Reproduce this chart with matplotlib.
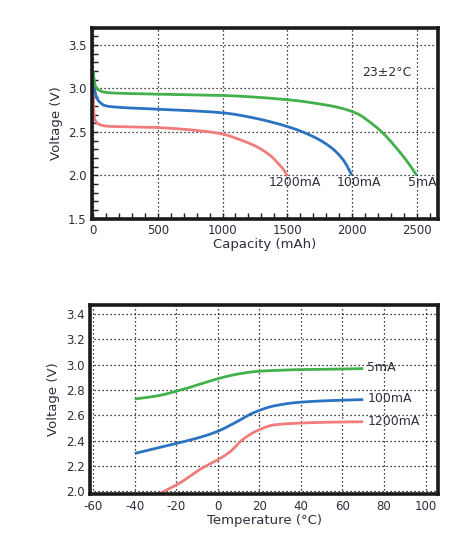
import numpy as np
import matplotlib
matplotlib.use("Agg")
import matplotlib.pyplot as plt
from matplotlib.ticker import MultipleLocator

plt.rcParams['axes.unicode_minus'] = False

# discharge curves (capacity in mAh, voltage in V)
cap_5 = [0, 15, 46, 98, 201, 459, 1000, 1521, 1779, 1900, 2000, 2060, 2114, 2230, 2346, 2436, 2500]
v_5 = [3.2, 3.04, 2.98, 2.955, 2.945, 2.937, 2.92, 2.868, 2.815, 2.78, 2.735, 2.695, 2.64, 2.5, 2.31, 2.14, 2.0]

cap_100 = [0, 8, 21, 46, 98, 201, 459, 1000, 1212, 1521, 1676, 1830, 1934, 2000]
v_100 = [3.2, 3.04, 2.925, 2.85, 2.80, 2.783, 2.764, 2.72, 2.67, 2.552, 2.463, 2.33, 2.174, 2.0]

cap_1200 = [0, 3, 15, 46, 98, 201, 459, 825, 1000, 1135, 1263, 1367, 1431, 1483, 1500]
v_1200 = [3.2, 2.8, 2.636, 2.587, 2.567, 2.56, 2.552, 2.513, 2.475, 2.41, 2.33, 2.23, 2.135, 2.04, 1.99]

# voltage vs temperature
temp_5 = [-40, -29, -17, -8, 0, 9, 19, 30, 40, 55, 70]
volt_5 = [2.73, 2.755, 2.805, 2.85, 2.89, 2.925, 2.948, 2.957, 2.962, 2.965, 2.97]

temp_100 = [-40, -30, -21, -8, 0, 8, 17, 27, 40, 59, 70]
volt_100 = [2.3, 2.34, 2.375, 2.43, 2.475, 2.54, 2.62, 2.675, 2.705, 2.72, 2.725]

temp_1200 = [-29, -18, -8, 0, 6, 12, 19, 27, 40, 55, 70]
volt_1200 = [1.975, 2.07, 2.18, 2.25, 2.315, 2.41, 2.48, 2.525, 2.54, 2.547, 2.55]

GREEN = '#42b14c'
BLUE = '#2b73c2'
RED = '#f07c7c'
TXT = '#2a2f3c'


def pchip(xs, ys, n=400):
    # monotone cubic (Fritsch-Carlson) through the read points
    x = np.asarray(xs, float)
    y = np.asarray(ys, float)
    h = np.diff(x)
    d = np.diff(y) / h
    m = np.zeros_like(y)
    m[0], m[-1] = d[0], d[-1]
    for i in range(1, len(x) - 1):
        if d[i - 1] * d[i] > 0:
            w1 = 2 * h[i] + h[i - 1]
            w2 = h[i] + 2 * h[i - 1]
            m[i] = (w1 + w2) / (w1 / d[i - 1] + w2 / d[i])
    xx = np.linspace(x[0], x[-1], n)
    # keep the knots so steep starts are not cut
    xx = np.unique(np.concatenate([xx, x]))
    k = np.clip(np.searchsorted(x, xx) - 1, 0, len(x) - 2)
    t = (xx - x[k]) / h[k]
    h00 = 2 * t**3 - 3 * t**2 + 1
    h10 = t**3 - 2 * t**2 + t
    h01 = -2 * t**3 + 3 * t**2
    h11 = t**3 - t**2
    yy = h00 * y[k] + h10 * h[k] * m[k] + h01 * y[k + 1] + h11 * h[k] * m[k + 1]
    return xx, yy


def style(ax):
    for s in ax.spines.values():
        s.set_linewidth(2.6)
        s.set_color('#1a1a1a')
    ax.grid(True, which='major', color='black', linestyle=(0, (1, 2.2)), linewidth=0.9)
    ax.tick_params(labelsize=8.5, labelcolor=TXT)


fig = plt.figure(figsize=(4.72, 5.55), dpi=100)

ax1 = fig.add_axes([0.194, 0.606, 0.734, 0.344])
for c, v, col in [(cap_1200, v_1200, RED), (cap_100, v_100, BLUE), (cap_5, v_5, GREEN)]:
    xs, ys = pchip(c, v)
    ax1.plot(xs, ys, color=col, lw=2.0, solid_capstyle='butt')
ax1.set_xlim(-12, 2665)
ax1.set_ylim(1.5, 3.7)
ax1.xaxis.set_major_locator(MultipleLocator(500))
ax1.yaxis.set_major_locator(MultipleLocator(0.5))
ax1.xaxis.set_minor_locator(MultipleLocator(100))
ax1.yaxis.set_minor_locator(MultipleLocator(0.1))
ax1.tick_params(which='both', direction='in', length=4, width=1, color='#1a1a1a',
                top=False, right=False)
ax1.yaxis.set_major_formatter(lambda v, p: f'{v:.1f}')
style(ax1)
ax1.set_xlabel('Capacity (mAh)', fontsize=9.5, color=TXT, labelpad=1)
ax1.set_ylabel('Voltage (V)', fontsize=9.5, color=TXT, labelpad=4)
ax1.text(2270, 3.19, '23\u00b12\u00b0C', fontsize=9, color=TXT, ha='center', va='center')
ax1.text(1353, 1.92, '1200mA', fontsize=9, color=TXT, ha='left', va='center')
ax1.text(1882, 1.92, '100mA', fontsize=9, color=TXT, ha='left', va='center')
ax1.text(2434, 1.92, '5mA', fontsize=9, color=TXT, ha='left', va='center')

ax2 = fig.add_axes([0.191, 0.110, 0.737, 0.340])
for t, v, col in [(temp_1200, volt_1200, RED), (temp_100, volt_100, BLUE), (temp_5, volt_5, GREEN)]:
    xs, ys = pchip(t, v)
    ax2.plot(xs, ys, color=col, lw=2.0, solid_capstyle='butt')
ax2.set_xlim(-61.5, 106)
ax2.set_ylim(1.98, 3.47)
ax2.xaxis.set_major_locator(MultipleLocator(20))
ax2.yaxis.set_major_locator(MultipleLocator(0.2))
ax2.tick_params(which='both', length=0, pad=4)
ax2.yaxis.set_major_formatter(lambda v, p: f'{v:.1f}')
style(ax2)
ax2.set_xlabel('Temperature (\u00b0C)', fontsize=9.5, color=TXT, labelpad=1)
ax2.set_ylabel('Voltage (V)', fontsize=9.5, color=TXT, labelpad=4)
ax2.text(72, 2.975, '5mA', fontsize=9, color=TXT, ha='left', va='center')
ax2.text(72, 2.735, '100mA', fontsize=9, color=TXT, ha='left', va='center')
ax2.text(72, 2.555, '1200mA', fontsize=9, color=TXT, ha='left', va='center')

fig.savefig('out.png', dpi=100)
